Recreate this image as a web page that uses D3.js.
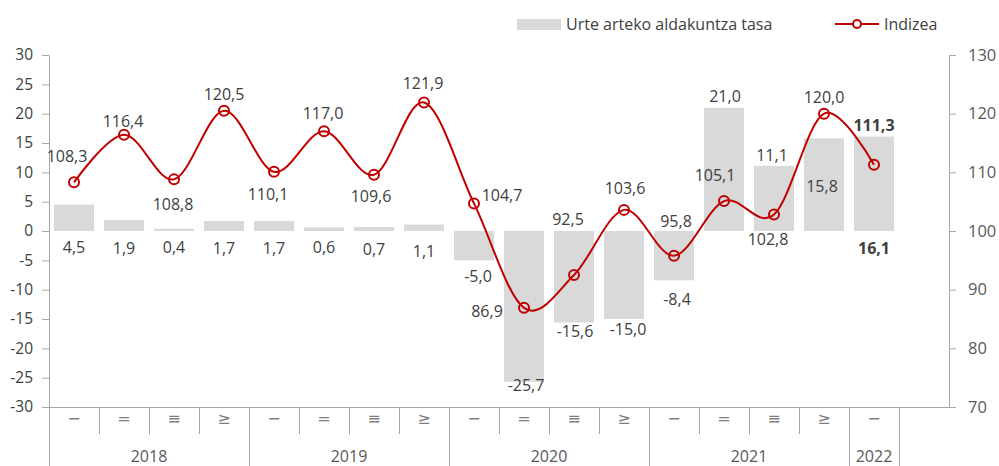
<!DOCTYPE html>
<meta charset="utf-8">
<style>
body {
  margin: 0;
  background: #fff;
  font-family: "Segoe UI", "Open Sans", "Noto Sans", sans-serif;
}
.lbl { fill: #404040; font-size: 16px; }
.tick text { font-family: "Segoe UI", "Open Sans", sans-serif; }
</style>
<body>
<svg width="999" height="466" id="chart"></svg>

<script src="https://d3js.org/d3.v7.min.js"></script>
<script>

// data
var quarters = ["\u2212", "=", "\u2261", "\u2265",
                "\u2212", "=", "\u2261", "\u2265",
                "\u2212", "=", "\u2261", "\u2265",
                "\u2212", "=", "\u2261", "\u2265",
                "\u2212"];
var years = ["2018", "2019", "2020", "2021", "2022"];
var yearQuarters = [4, 4, 4, 4, 1];
var rate = [4.5, 1.9, 0.4, 1.7, 1.7, 0.6, 0.7, 1.1, -5.0, -25.7, -15.6, -15.0, -8.4, 21.0, 11.1, 15.8, 16.1];
var index = [108.3, 116.4, 108.8, 120.5, 110.1, 117.0, 109.6, 121.9, 104.7, 86.9, 92.5, 103.6, 95.8, 105.1, 102.8, 120.0, 111.3];
var leftTicks = [-30, -25, -20, -15, -10, -5, 0, 5, 10, 15, 20, 25, 30];
var rightTicks = [70, 80, 90, 100, 110, 120, 130];
var legendNames = ["Urte arteko aldakuntza tasa", "Indizea"];

// label placement (dx, dy of label centre from the point / bar end)
var indexLabelPos = [[-7, -26], [-1, -13], [-1, 25], [0, -16], [-6, 23], [-1, -18], [-3, 22], [-1, -19],
                     [28, -8], [-37, 4], [-6, -56], [1, -21], [2, -34], [-9, -26], [-6, 25], [0, -16], [0, -39]];
// "b" = measured from zero line, "e" = measured from bar end
var rateLabelPos = [["b", 0, 16], ["b", 0, 17], ["b", 0, 16], ["b", 0, 17], ["b", 0, 17], ["b", 0, 16], ["b", 0, 18], ["b", 0, 20],
                    ["e", 4, 16], ["e", 2, 4], ["e", 1, 9], ["e", 4, 10], ["e", 3, 19], ["e", 1, -11], ["e", -2, -10], ["e", -2, 48], ["b", 0, 17]];

var red = "#c00000",
    barColor = "#d9d9d9",
    axisColor = "#a6a6a6";

var svg = d3.select("#chart");

var plotLeft = 49, plotRight = 949, plotTop = 55, plotBottom = 407;
var nSlots = quarters.length + 1;   // one empty slot after the last quarter

var x = d3.scaleBand()
    .domain(d3.range(nSlots))
    .range([plotLeft, plotRight])
    .paddingInner(0.2)
    .paddingOuter(0.1);
var step = x.step();
function slotEdge(i) { return plotLeft + i * step; }

var yL = d3.scaleLinear().domain([-30, 30]).range([plotBottom, plotTop]);
var yR = d3.scaleLinear().domain([70, 130]).range([plotBottom, plotTop]);

// bars
svg.selectAll(".bar")
    .data(rate)
  .enter().append("rect")
    .attr("class", "bar")
    .attr("x", function(d, i) { return x(i); })
    .attr("width", x.bandwidth())
    .attr("y", function(d) { return yL(Math.max(0, d)); })
    .attr("height", function(d) { return Math.abs(yL(d) - yL(0)); })
    .attr("fill", barColor);

// axes
var gL = svg.append("g")
    .attr("transform", "translate(" + plotLeft + ",0)")
    .call(d3.axisLeft(yL).tickValues(leftTicks).tickSize(7).tickSizeOuter(0).tickPadding(9)
      .tickFormat(function(d) { return d < 0 ? "-" + Math.abs(d) : d; }));
gL.select(".domain").attr("stroke", axisColor);
gL.selectAll(".tick line").attr("stroke", axisColor);
gL.selectAll(".tick text").attr("fill", "#404040").attr("font-size", "15.5px");

var gR = svg.append("g")
    .attr("transform", "translate(" + plotRight + ",0)")
    .call(d3.axisRight(yR).tickValues(rightTicks).tickSize(7).tickSizeOuter(7).tickPadding(12));
gR.select(".domain").attr("stroke", axisColor);
gR.selectAll(".tick line").attr("stroke", axisColor);
gR.selectAll(".tick text").attr("fill", "#595959").attr("font-size", "16.5px");

// category axis
svg.append("line")
    .attr("x1", plotLeft).attr("x2", plotRight)
    .attr("y1", plotBottom + 0.5).attr("y2", plotBottom + 0.5)
    .attr("stroke", axisColor);

var yearEdges = [0];
yearQuarters.forEach(function(n, i) { yearEdges.push(yearEdges[i] + n); });

svg.selectAll(".qsep")
    .data(d3.range(1, quarters.length))
    .enter().append("line")
    .attr("x1", function(i) { return slotEdge(i) + 0.5; })
    .attr("x2", function(i) { return slotEdge(i) + 0.5; })
    .attr("y1", plotBottom).attr("y2", plotBottom + 27)
    .attr("stroke", axisColor);

svg.selectAll(".ysep")
    .data(yearEdges)
    .enter().append("line")
    .attr("x1", function(i) { return slotEdge(i) + 0.5; })
    .attr("x2", function(i) { return slotEdge(i) + 0.5; })
    .attr("y1", plotBottom).attr("y2", 466)
    .attr("stroke", axisColor);

svg.selectAll(".qlab")
    .data(quarters)
    .enter().append("text")
    .attr("x", function(d, i) { return x(i) + x.bandwidth() / 2; })
    .attr("y", 418)
    .attr("dy", "0.35em")
    .attr("text-anchor", "middle")
    .attr("font-family", "DejaVu Sans")
    .attr("font-size", "16px")
    .attr("fill", "#7f7f7f")
    .text(function(d) { return d; });

svg.selectAll(".ylab")
    .data(years)
    .enter().append("text")
    .attr("x", function(d, i) { return (slotEdge(yearEdges[i]) + slotEdge(yearEdges[i + 1])) / 2; })
    .attr("y", 456)
    .attr("dy", "0.35em")
    .attr("text-anchor", "middle")
    .attr("font-size", "16px")
    .attr("fill", "#595959")
    .text(function(d) { return d; });

// index line
var line = d3.line()
    .x(function(d, i) { return x(i) + x.bandwidth() / 2; })
    .y(function(d) { return yR(d); })
    .curve(d3.curveCardinal.tension(0));

svg.append("path")
    .datum(index)
    .attr("d", line)
    .attr("fill", "none")
    .attr("stroke", red)
    .attr("stroke-width", 2);

svg.selectAll(".dot")
    .data(index)
  .enter().append("circle")
    .attr("cx", function(d, i) { return x(i) + x.bandwidth() / 2; })
    .attr("cy", function(d) { return yR(d); })
    .attr("r", 5)
    .attr("fill", "none")
    .attr("stroke", red)
    .attr("stroke-width", 2);

// labels
var fmt = function(v) { return v.toFixed(1).replace(".", ","); };
var last = index.length - 1;

svg.selectAll(".rlab")
    .data(rate)
  .enter().append("text")
    .attr("class", "lbl")
    .attr("x", function(d, i) { return x(i) + x.bandwidth() / 2 + rateLabelPos[i][1]; })
    .attr("y", function(d, i) {
      var p = rateLabelPos[i];
      return (p[0] === "b" ? yL(0) : yL(d)) + p[2];
    })
    .attr("dy", "0.35em")
    .attr("text-anchor", "middle")
    .attr("font-weight", function(d, i) { return i === last ? "bold" : null; })
    .text(fmt);

svg.selectAll(".ilab")
    .data(index)
  .enter().append("text")
    .attr("class", "lbl")
    .attr("x", function(d, i) { return x(i) + x.bandwidth() / 2 + indexLabelPos[i][0]; })
    .attr("y", function(d, i) { return yR(d) + indexLabelPos[i][1]; })
    .attr("dy", "0.35em")
    .attr("text-anchor", "middle")
    .attr("font-weight", function(d, i) { return i === last ? "bold" : null; })
    .text(fmt);

// legend
var leg = svg.append("g");
leg.append("rect")
    .attr("x", 517).attr("y", 19).attr("width", 44).attr("height", 11)
    .attr("fill", barColor);
leg.append("text")
    .attr("x", 566).attr("y", 24).attr("dy", "0.35em")
    .attr("font-size", "16px").attr("fill", "#404040")
    .text(legendNames[0]);
leg.append("line")
    .attr("x1", 835).attr("x2", 879).attr("y1", 24).attr("y2", 24)
    .attr("stroke", red).attr("stroke-width", 2);
leg.append("circle")
    .attr("cx", 857).attr("cy", 24).attr("r", 4)
    .attr("fill", "#fff").attr("stroke", red).attr("stroke-width", 2);
leg.append("text")
    .attr("x", 884).attr("y", 24).attr("dy", "0.35em")
    .attr("font-size", "16px").attr("fill", "#404040")
    .text(legendNames[1]);

</script>
</body>
